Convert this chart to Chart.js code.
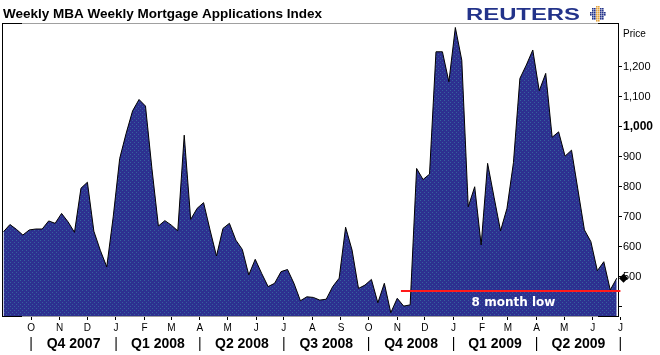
<!DOCTYPE html>
<html>
<head>
<meta charset="utf-8">
<script src="https://cdn.jsdelivr.net/npm/chart.js@4/dist/chart.umd.min.js"></script>
<style>
  html, body { margin: 0; padding: 0; background: #fff; }
  #wrap { width: 660px; height: 355px; }
</style>
</head>
<body>
<div id="wrap"><canvas id="chart" width="660" height="355"></canvas></div>
<script>
// weekly readings, first one in the week of startDate
const startDate = '2007-09-01';
const applications = [
  650, 674, 658, 639, 656, 659, 659, 686, 678, 711,
  683, 648, 795, 815, 652, 588, 533, 700, 894, 978,
  1053, 1091, 1069, 860, 669, 687, 672, 653, 972, 691,
  728, 747, 656, 569, 661, 678, 622, 591, 506, 558,
  511, 467, 478, 517, 524, 478, 420, 433, 431, 422,
  425, 467, 495, 665, 589, 461, 472, 491, 413, 478,
  380, 428, 402, 406, 861, 824, 842, 1250, 1250, 1150,
  1331, 1222, 733, 800, 606, 878, 765, 653, 728, 880,
  1161, 1206, 1256, 1120, 1178, 965, 983, 902, 922, 789,
  656, 617, 520, 550, 456, 495
];

const monthStarts = ['2007-10-01', '2007-11-01', '2007-12-01', '2008-01-01', '2008-02-01', '2008-03-01',
  '2008-04-01', '2008-05-01', '2008-06-01', '2008-07-01', '2008-08-01', '2008-09-01', '2008-10-01',
  '2008-11-01', '2008-12-01', '2009-01-01', '2009-02-01', '2009-03-01', '2009-04-01', '2009-05-01',
  '2009-06-01', '2009-07-01'];
const monthLabels = ['O', 'N', 'D', 'J', 'F', 'M', 'A', 'M', 'J', 'J', 'A', 'S', 'O', 'N', 'D',
  'J', 'F', 'M', 'A', 'M', 'J', 'J'];
const quarterStarts = ['2007-10-01', '2008-01-01', '2008-04-01', '2008-07-01', '2008-10-01',
  '2009-01-01', '2009-04-01', '2009-07-01'];
const quarterLabels = ['Q4 2007', 'Q1 2008', 'Q2 2008', 'Q3 2008', 'Q4 2008', 'Q1 2009', 'Q2 2009'];
const priceTicks = [400, 500, 600, 700, 800, 900, 1000, 1100, 1200];

const lowValue = 452;
const lowStart = '2008-11-05';
const lowEnd = '2009-07-01';
const lowLabel = '8 month low';

const weeksFrom = d => (Date.parse(d) - Date.parse(startDate)) / 6048e5;

const xMin = -0.23, xMax = 95.2;

// quarter axis: separator, label, separator, label ...
const quarterTicks = [];
quarterStarts.forEach((q, i) => {
  quarterTicks.push({ value: weeksFrom(q) });
  if (i < quarterLabels.length) {
    quarterTicks.push({ value: (weeksFrom(q) + weeksFrom(quarterStarts[i + 1])) / 2 });
  }
});

function dotFill() {
  const c = document.createElement('canvas');
  c.width = 4; c.height = 4;
  const g = c.getContext('2d');
  g.fillStyle = '#2d3090';
  g.fillRect(0, 0, 4, 4);
  g.fillStyle = '#35609e';
  g.fillRect(0, 0, 1, 1);
  g.fillRect(2, 2, 1, 1);
  return g.createPattern(c, 'repeat');
}

const decorations = {
  id: 'decorations',
  beforeDraw(chart) {
    const ctx = chart.ctx;
    ctx.save();
    ctx.fillStyle = '#fff';
    ctx.fillRect(0, 0, chart.width, chart.height);
    ctx.restore();
  },
  afterDraw(chart) {
    const { ctx, chartArea: a, scales: { x, y } } = chart;
    ctx.save();
    // frame
    ctx.lineWidth = 1;
    ctx.strokeStyle = '#a0a0a0';
    ctx.beginPath();
    ctx.moveTo(a.left, a.top + 0.5);
    ctx.lineTo(a.right, a.top + 0.5);
    ctx.stroke();
    ctx.strokeStyle = '#000';
    ctx.beginPath();
    ctx.moveTo(a.left + 0.5, a.top);
    ctx.lineTo(a.left + 0.5, a.bottom);
    ctx.moveTo(a.left, a.top + 0.5);
    ctx.lineTo(a.left + 20, a.top + 0.5);
    ctx.moveTo(a.left, a.bottom + 0.5);
    ctx.lineTo(a.left + 20, a.bottom + 0.5);
    ctx.moveTo(a.right - 20, a.top + 0.5);
    ctx.lineTo(a.right, a.top + 0.5);
    ctx.moveTo(a.right - 20, a.bottom + 0.5);
    ctx.lineTo(a.right, a.bottom + 0.5);
    ctx.stroke();

    // annotation text
    ctx.fillStyle = '#fff';
    ctx.font = 'bold 12px "DejaVu Sans"';
    ctx.textAlign = 'center';
    ctx.textBaseline = 'middle';
    const lx = (x.getPixelForValue(weeksFrom(lowStart)) + a.right) / 2 + 4;
    ctx.fillText(lowLabel, lx, y.getPixelForValue(lowValue) + 12);

    // last value marker
    const last = applications[applications.length - 1];
    const px = a.right + 5.5, py = y.getPixelForValue(last);
    ctx.fillStyle = '#000';
    ctx.beginPath();
    ctx.moveTo(px, py - 4.5);
    ctx.lineTo(px + 4.5, py);
    ctx.lineTo(px, py + 4.5);
    ctx.lineTo(px - 4.5, py);
    ctx.closePath();
    ctx.fill();

    // title
    ctx.textAlign = 'left';
    ctx.textBaseline = 'alphabetic';
    ctx.fillStyle = '#000';
    ctx.font = 'bold 13.5px "Liberation Sans"';
    ctx.fillText('Weekly MBA Weekly Mortgage Applications Index', 3, 18);

    // axis caption
    ctx.font = '10px "Liberation Sans"';
    ctx.fillText('Price', 623, 37);

    // logo
    ctx.font = 'bold 16px "Liberation Sans"';
    ctx.fillStyle = '#23338a';
    const w = ctx.measureText('REUTERS').width;
    ctx.save();
    ctx.translate(466, 20);
    ctx.scale(114 / w, 1);
    ctx.fillText('REUTERS', 0, 0);
    ctx.restore();
    for (let dy = -7; dy <= 7; dy += 2) {
      for (let dx = -7; dx <= 7; dx += 2) {
        if (dx * dx + dy * dy > 56) continue;
        ctx.fillStyle = Math.abs(dx) <= 1 ? '#e3a23c' : '#23338a';
        ctx.fillRect(597 + dx, 13 + dy, 1.6, 1.6);
      }
    }
    ctx.restore();
  }
};

new Chart(document.getElementById('chart'), {
  type: 'line',
  data: {
    datasets: [{
      data: [{ x: weeksFrom(lowStart), y: lowValue }, { x: weeksFrom(lowEnd), y: lowValue }],
      borderColor: '#ff1a1a',
      borderWidth: 2,
      pointRadius: 0,
      fill: false,
      clip: false
    }, {
      data: applications.map((v, i) => ({ x: i, y: v })),
      borderColor: '#000',
      borderWidth: 1,
      backgroundColor: dotFill(),
      pointRadius: 0,
      tension: 0,
      fill: 'start'
    }]
  },
  options: {
    responsive: false,
    animation: false,
    layout: { padding: { left: 2, top: 23, right: 0, bottom: 0 } },
    plugins: { legend: { display: false }, tooltip: { enabled: false } },
    scales: {
      x: {
        type: 'linear',
        min: xMin,
        max: xMax,
        position: 'bottom',
        afterFit: s => { s.height = 16; },
        afterBuildTicks: s => { s.ticks = monthStarts.map(d => ({ value: weeksFrom(d) })); },
        border: { color: '#a0a0a0' },
        grid: { drawOnChartArea: false, tickLength: 4, color: '#000' },
        ticks: {
          autoSkip: false, maxRotation: 0, padding: 2,
          color: '#000',
          font: { family: '"Liberation Sans"', size: 10 },
          callback: (v, i) => monthLabels[i]
        }
      },
      x2: {
        type: 'linear',
        min: xMin,
        max: xMax,
        position: 'bottom',
        afterFit: s => { s.height = 23; },
        afterBuildTicks: s => { s.ticks = quarterTicks.map(t => ({ value: t.value })); },
        border: { display: false },
        grid: { display: false, drawTicks: false },
        ticks: {
          autoSkip: false, maxRotation: 0, padding: 4,
          color: '#000',
          font: c => c.index % 2
            ? { family: '"Liberation Sans Narrow", "Liberation Sans"', size: 14, weight: 'bold' }
            : { family: '"Liberation Sans"', size: 14 },
          callback: (v, i) => i % 2 ? quarterLabels[(i - 1) / 2] : '|'
        }
      },
      y: {
        type: 'linear',
        position: 'right',
        min: 369,
        max: 1346,
        afterFit: s => { s.width = 42; },
        afterBuildTicks: s => { s.ticks = priceTicks.map(v => ({ value: v })); },
        border: { color: '#000' },
        grid: { drawOnChartArea: false, tickLength: 4, color: '#000' },
        ticks: {
          padding: 1,
          color: '#000',
          font: c => c.tick && c.tick.value === 1000
            ? { family: '"Liberation Sans"', size: 12, weight: 'bold' }
            : { family: '"Liberation Sans"', size: 11 },
          callback: v => v === 400 ? '' : v.toLocaleString('en-US')
        }
      }
    }
  },
  plugins: [decorations]
});
</script>
</body>
</html>
